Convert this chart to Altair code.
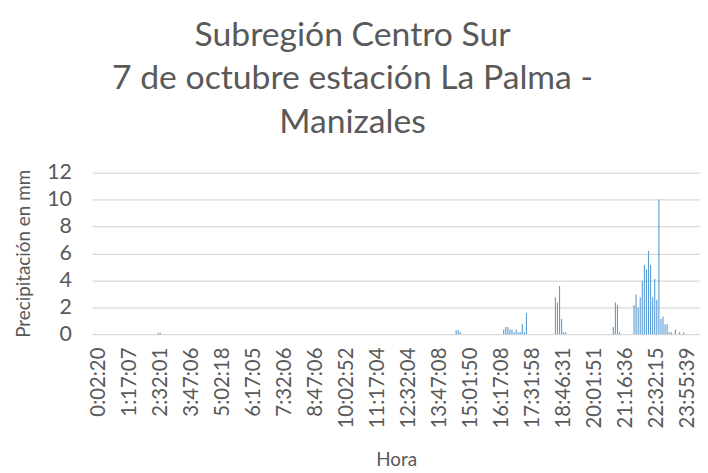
import altair as alt
import pandas as pd

# category labels shown on the x axis (one every 15 categories)
tick_labels = ["0:02:20", "1:17:07", "2:32:01", "3:47:06", "5:02:18", "6:17:05",
               "7:32:06", "8:47:06", "10:02:52", "11:17:04", "12:32:04", "13:47:08",
               "15:01:50", "16:17:08", "17:31:58", "18:46:31", "20:01:51", "21:16:36",
               "22:32:15", "23:55:39"]
n_categories = 289
label_step = 15

# non-zero precipitation records: category index and value (mm)
rain_index = [29, 30,
              173, 174, 175,
              196, 197, 198, 199, 200, 201, 202, 203, 204, 205, 206, 207,
              221, 222, 223, 224, 225, 226,
              249, 250, 251, 252,
              259, 260, 261, 262, 263, 264, 265, 266, 267, 268, 269, 270, 271,
              272, 273, 274, 275, 276, 277, 279, 281, 283]
rain_mm = [0.1, 0.1,
           0.3, 0.3, 0.15,
           0.34, 0.54, 0.54, 0.34, 0.34, 0.15, 0.34, 0.15, 0.15, 0.76, 0.15, 1.57,
           2.74, 2.35, 3.58, 1.13, 0.15, 0.15,
           0.54, 2.35, 2.16, 0.15,
           2.16, 2.94, 1.96, 2.74, 3.97, 5.15, 4.8, 6.18, 5.15, 2.74, 4.12, 2.55, 10.0,
           1.13, 1.32, 0.73, 0.73, 0.15, 0.15, 0.34, 0.15, 0.15]

df = pd.DataFrame({"idx": rain_index, "mm": rain_mm})

label_array = "[" + ",".join("'" + t + "'" for t in tick_labels) + "]"
tick_values = [i * label_step for i in range(len(tick_labels))]

TEXT = "#595959"
FONT = "Lato"

chart = alt.Chart(df).mark_bar(color="#5B9BD5", size=1.1).encode(
    x=alt.X("idx:Q",
            scale=alt.Scale(domain=[-0.5, n_categories - 0.5], nice=False, zero=False),
            axis=alt.Axis(values=tick_values,
                          labelExpr=label_array + "[round(datum.value/" + str(label_step) + ")]",
                          labelAngle=270, labelFontSize=20.5, labelColor=TEXT, labelFont=FONT,
                          labelPadding=13, ticks=False, domain=False, grid=False,
                          title="Hora", titleFontSize=19, titleColor=TEXT, titleFont=FONT,
                          titleFontWeight="normal", titlePadding=23, labelOverlap=False)),
    y=alt.Y("mm:Q",
            scale=alt.Scale(domain=[0, 12], nice=False),
            axis=alt.Axis(values=[0, 2, 4, 6, 8, 10, 12], labelFontSize=21.5, labelColor=TEXT,
                          labelFont=FONT, labelPadding=21, ticks=False, domain=False,
                          grid=True, gridColor="#D9D9D9", gridWidth=1.3,
                          title="Precipitación en mm", titleFontSize=19, titleColor=TEXT,
                          titleFont=FONT, titleFontWeight="normal", titlePadding=13)),
).properties(
    width=613,
    height=163,
    autosize=alt.AutoSizeParams(type="none"),
    padding={"left": 85, "top": 164, "right": 0, "bottom": 136},
    title=alt.TitleParams(
        text=["Subregión Centro Sur", "7 de octubre estación La Palma -", "Manizales"],
        fontSize=34, font=FONT, color=TEXT, fontWeight="normal",
        anchor="middle", dx=-44, lineHeight=44, offset=22),
).configure_view(stroke=None)

chart.save("out.html", embed_options={"renderer": "svg", "actions": False})
